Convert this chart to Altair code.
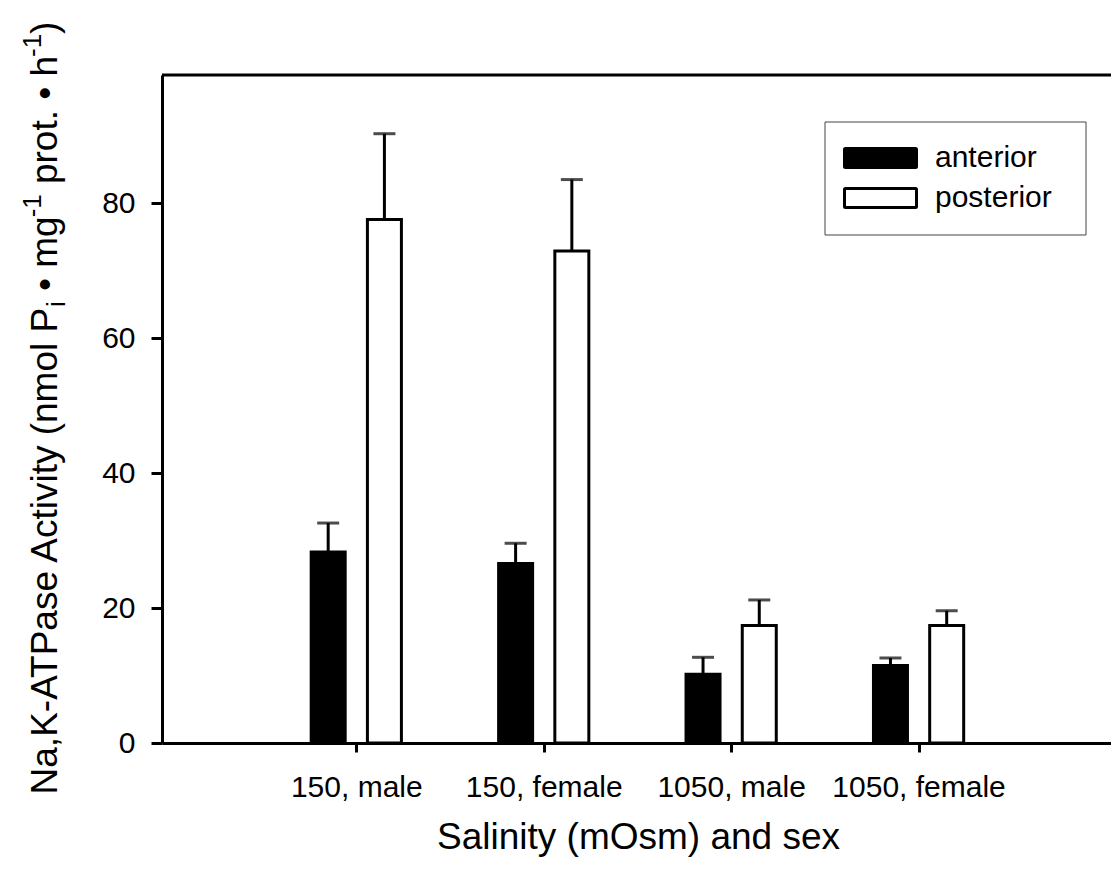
import json
import altair as alt
import pandas as pd

# ---- data ----
groups = ["150, male", "150, female", "1050, male", "1050, female"]
series = ["anterior", "posterior"]
anterior_mean = [28.3, 26.6, 10.2, 11.5]
anterior_se = [4.3, 3.0, 2.5, 1.1]
posterior_mean = [77.6, 72.9, 17.4, 17.4]
posterior_se = [12.7, 10.6, 3.8, 2.2]
y_ticks = [0, 20, 40, 60, 80]
series_fill = ["black", "white"]
series_offset = [-0.15, 0.15]

x_title = "Salinity (mOsm) and sex"
# y title pieces: (text, kind) kind: "n" normal, "sub" subscript, "sup" superscript
y_title_parts = [
    ("Na,K-ATPase Activity (nmol P", "n"),
    ("i", "sub"),
    (" \u2022 mg", "n"),
    ("-1", "sup"),
    (" prot. \u2022 h", "n"),
    ("-1", "sup"),
    (")", "n"),
]

rows = []
for i, g in enumerate(groups):
    for k, (s, means, ses) in enumerate(
        [("anterior", anterior_mean, anterior_se), ("posterior", posterior_mean, posterior_se)]
    ):
        rows.append({"group": g, "series": s, "pos": i + 1 + series_offset[k],
                     "mean": means[i], "top": round(means[i] + ses[i], 2)})
df = pd.DataFrame(rows)

W, H = 949, 668
FONT = "Liberation Sans"
TITLE_SIZE = 37
label_expr = json.dumps([""] + groups) + "[round(datum.value)]"

x_enc = alt.X(
    "pos:Q",
    scale=alt.Scale(domain=[-0.01, 5.0], nice=False, zero=False),
    axis=alt.Axis(values=[1, 2, 3, 4], labelExpr=label_expr, tickSize=9,
                  labelBaseline="alphabetic", labelPadding=44,
                  title=x_title, titleBaseline="alphabetic",
                  titleX=476, titleY=105),
)
y_enc = alt.Y(
    "mean:Q",
    scale=alt.Scale(domain=[0, 99], nice=False),
    axis=alt.Axis(values=y_ticks, tickSize=11, labelPadding=16, title=""),
)

base = alt.Chart(df)
bars = base.mark_bar(orient="vertical", size=34, stroke="black", strokeWidth=3).encode(
    x=x_enc, y=y_enc,
    fill=alt.Fill("series:N", scale=alt.Scale(domain=series, range=series_fill), legend=None),
)
stems = base.mark_rule(color="black", strokeWidth=3).encode(
    x="pos:Q", y="mean:Q", y2="top:Q"
)
caps = base.mark_tick(orient="horizontal", size=22, thickness=3, color="black").encode(
    x="pos:Q", y="top:Q"
)
top_border = alt.Chart(pd.DataFrame({"a": [0]})).mark_rule(color="black", strokeWidth=3).encode(
    x=alt.value(0), x2=alt.value(W), y=alt.value(0)
)

# ---- legend (drawn manually) ----
legend_layers = [
    alt.Chart(pd.DataFrame({"a": [0]})).mark_rect(fill="white", stroke="#444", strokeWidth=1).encode(
        x=alt.value(663), x2=alt.value(924), y=alt.value(47), y2=alt.value(160)
    )
]
for i, s in enumerate(series):
    d = pd.DataFrame({"label": [s]})
    legend_layers.append(
        alt.Chart(d).mark_rect(fill=series_fill[i], stroke="black", strokeWidth=3,
                               cornerRadius=1).encode(
            x=alt.value(682.5), x2=alt.value(754.5),
            y=alt.value(73.5 + 40 * i), y2=alt.value(92.5 + 40 * i)
        )
    )
    legend_layers.append(
        alt.Chart(d).mark_text(align="left", baseline="alphabetic", font=FONT,
                               fontSize=30, color="black").encode(
            x=alt.value(773), y=alt.value(92 + 40 * i), text="label:N"
        )
    )

# ---- rotated y-axis title with sub/superscripts (Arial/Liberation metrics) ----
CW = {"N": 722, "a": 556, ",": 278, "K": 667, "-": 333, "A": 667, "T": 611, "P": 667,
      "s": 500, "e": 556, " ": 278, "c": 500, "t": 278, "i": 222, "v": 500, "y": 500,
      "(": 333, "n": 556, "m": 833, "o": 556, "l": 222, "\u2022": 350, "g": 556,
      "1": 556, "r": 333, ".": 278, "h": 556, ")": 333, "p": 556}
SMALL = 0.7
def text_w(t, size):
    return sum(CW.get(ch, 556) for ch in t) / 1000.0 * size

sizes = [TITLE_SIZE * (SMALL if k != "n" else 1.0) for _, k in y_title_parts]
total = sum(text_w(t, sz) for (t, _), sz in zip(y_title_parts, sizes))
base_x = -105          # baseline, relative to the plot's left edge
center_y = 330         # relative to the plot's top edge
cur = center_y + total / 2
title_layers = []
for (t, k), sz in zip(y_title_parts, sizes):
    shift = {"n": 0, "sub": 0.22 * TITLE_SIZE, "sup": -0.42 * TITLE_SIZE}[k]
    kern = {"n": 0, "sub": 4, "sup": 1}[k]
    stripped = t.lstrip(" ")
    cur -= text_w(t[: len(t) - len(stripped)], sz)   # SVG drops leading spaces
    cur += kern
    title_layers.append(
        alt.Chart(pd.DataFrame({"t": [stripped]})).mark_text(
            align="left", baseline="alphabetic", angle=270, font=FONT,
            fontSize=sz, color="black"
        ).encode(x=alt.value(base_x + shift), y=alt.value(cur), text="t:N")
    )
    cur -= text_w(stripped, sz)

chart = alt.layer(bars, stems, caps, top_border, *legend_layers, *title_layers).properties(
    width=W, height=H,
    padding={"left": 162, "top": 75, "right": 0, "bottom": 129},
    autosize=alt.AutoSizeParams(type="none"),
).configure_view(strokeWidth=0).configure_axis(
    domainColor="black", domainWidth=3, tickColor="black", tickWidth=3,
    labelFont=FONT, labelFontSize=30, labelColor="black",
    titleFont=FONT, titleFontSize=TITLE_SIZE, titleColor="black", titleFontWeight="normal",
    grid=False,
)

chart.save("out.html", embed_options={"renderer": "svg", "actions": False})
